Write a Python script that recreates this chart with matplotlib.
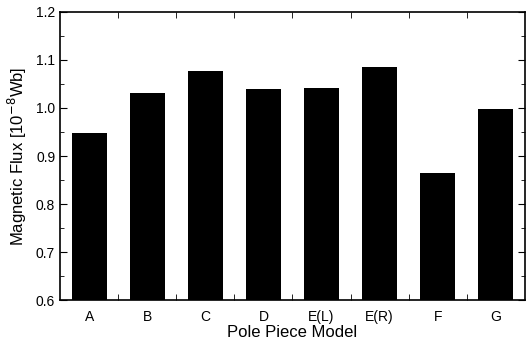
import numpy as np
import matplotlib.pyplot as plt

plt.rcParams['font.family'] = ['Liberation Sans', 'DejaVu Sans']

# Datos
models = ['A', 'B', 'C', 'D', 'E(L)', 'E(R)', 'F', 'G']
flux = [0.948, 1.032, 1.077, 1.040, 1.042, 1.086, 0.865, 0.998]

fig = plt.figure(figsize=(5.27, 3.41), dpi=100)
ax = fig.add_axes([0.114, 0.12, 0.882, 0.845])

x = np.arange(len(models))
ax.bar(x, flux, width=0.6, color='black', bottom=0)

ax.set_xlim(-0.5, len(models) - 0.5)
ax.set_ylim(0.6, 1.2)

# Etiquetas centradas en las barras, ticks entre barras
ax.set_xticks(x)
ax.set_xticklabels(models, fontsize=10)
ax.tick_params(axis='x', which='major', length=0, pad=7)
ax.set_xticks(np.arange(0.5, len(models) - 0.5, 1), minor=True)
ax.tick_params(axis='x', which='minor', direction='in', length=4, top=True, bottom=True)

ax.set_yticks(np.arange(0.6, 1.21, 0.1))
ax.set_yticks(np.arange(0.65, 1.2, 0.1), minor=True)
ax.tick_params(axis='y', which='major', direction='in', length=5, right=True, labelsize=10)
ax.tick_params(axis='y', which='minor', direction='in', length=3, right=True)
ax.yaxis.set_major_formatter(plt.FormatStrFormatter('%.1f'))

ax.set_xlabel('Pole Piece Model', fontsize=12, labelpad=1)
ax.set_ylabel('Magnetic Flux [10$^{-8}$Wb]', fontsize=12, labelpad=5)

for s in ax.spines.values():
    s.set_linewidth(1.2)

plt.savefig('out.png', dpi=100)
plt.close()
